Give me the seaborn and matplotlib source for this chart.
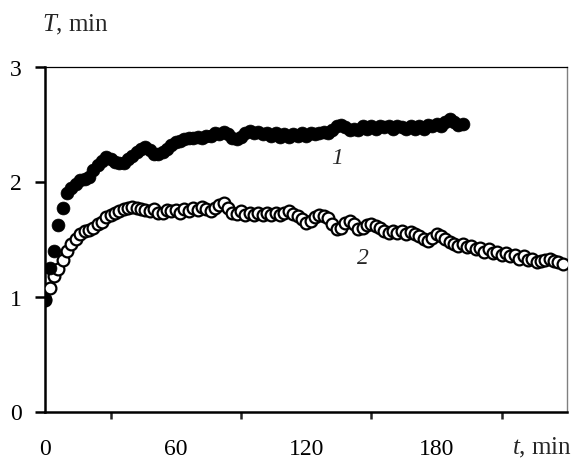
import numpy as np
import pandas as pd
import matplotlib
matplotlib.use("Agg")
import matplotlib.pyplot as plt
import seaborn as sns

# ---- data ----
t1 = list(range(0, 194, 2))
T1 = [0.98, 1.25, 1.40, 1.62, 1.77, 1.90, 1.94, 1.98, 2.01, 2.02,
      2.04, 2.10, 2.14, 2.18, 2.21, 2.20, 2.17, 2.16, 2.16, 2.20,
      2.22, 2.26, 2.28, 2.30, 2.27, 2.24, 2.24, 2.26, 2.28, 2.32,
      2.34, 2.35, 2.37, 2.38, 2.38, 2.39, 2.38, 2.40, 2.40, 2.42,
      2.41, 2.43, 2.41, 2.38, 2.37, 2.39, 2.42, 2.44, 2.42, 2.43,
      2.41, 2.42, 2.40, 2.42, 2.39, 2.41, 2.39, 2.41, 2.40, 2.42,
      2.40, 2.42, 2.41, 2.42, 2.43, 2.42, 2.45, 2.48, 2.49, 2.47,
      2.45, 2.46, 2.45, 2.48, 2.46, 2.48, 2.46, 2.48, 2.47, 2.48,
      2.46, 2.48, 2.47, 2.46, 2.48, 2.46, 2.48, 2.46, 2.49, 2.48,
      2.50, 2.48, 2.52, 2.54, 2.52, 2.49, 2.50]

t2 = list(range(0, 240, 2))
T2 = [0.97, 1.07, 1.18, 1.24, 1.32, 1.40, 1.46, 1.50, 1.54, 1.57,
      1.58, 1.60, 1.63, 1.65, 1.69, 1.71, 1.73, 1.74, 1.76, 1.77,
      1.78, 1.77, 1.76, 1.75, 1.74, 1.76, 1.73, 1.73, 1.75, 1.74,
      1.75, 1.73, 1.76, 1.74, 1.77, 1.75, 1.78, 1.76, 1.74, 1.77,
      1.80, 1.81, 1.77, 1.73, 1.72, 1.74, 1.71, 1.73, 1.71, 1.73,
      1.71, 1.73, 1.71, 1.73, 1.71, 1.73, 1.74, 1.72, 1.70, 1.67,
      1.64, 1.66, 1.69, 1.71, 1.70, 1.68, 1.63, 1.59, 1.60, 1.64,
      1.66, 1.63, 1.59, 1.60, 1.62, 1.63, 1.61, 1.60, 1.57, 1.55,
      1.57, 1.55, 1.57, 1.54, 1.56, 1.54, 1.53, 1.50, 1.48, 1.51,
      1.54, 1.53, 1.50, 1.47, 1.46, 1.44, 1.46, 1.43, 1.44, 1.41,
      1.42, 1.39, 1.41, 1.38, 1.39, 1.36, 1.38, 1.35, 1.36, 1.33,
      1.35, 1.32, 1.33, 1.30, 1.31, 1.32, 1.33, 1.31, 1.30, 1.28]

xticks = [0, 60, 120, 180]
xminor = [30, 90, 150, 210]
yticks = [0, 1, 2, 3]
curve_labels = ["1", "2"]
label_pos = [(134, 2.21), (146, 1.34)]

df1 = pd.DataFrame({"t": t1, "T": T1})
df2 = pd.DataFrame({"t": t2, "T": T2})

sns.set_style("white")
plt.rcParams["font.family"] = ["Liberation Serif", "DejaVu Serif"]
plt.rcParams["mathtext.fontset"] = "custom"
plt.rcParams["mathtext.rm"] = "Liberation Serif"
plt.rcParams["mathtext.it"] = "Liberation Serif:italic"

fig = plt.figure(figsize=(5.73, 4.64), dpi=100)
ax = fig.add_axes([45.4 / 573, 1 - 412.5 / 464, (567 - 45.4) / 573, (412.5 - 67.5) / 464])

sns.scatterplot(data=df2, x="t", y="T", ax=ax, s=72, marker="o",
                facecolor="white", edgecolor="black", linewidth=1.6, zorder=3)
sns.scatterplot(data=df1, x="t", y="T", ax=ax, s=86, marker="o",
                color="black", edgecolor="black", linewidth=0.5, zorder=4)

ax.set_xlim(0, 240)
ax.set_ylim(0, 3)
ax.set_xticks(xticks)
ax.set_xticks(xminor, minor=True)
ax.set_yticks(yticks)
ax.set_xlabel("")
ax.set_ylabel("")

for side in ["left", "bottom"]:
    ax.spines[side].set_linewidth(1.8)
    ax.spines[side].set_color("black")
ax.spines["top"].set_linewidth(0.9)
ax.spines["top"].set_color("black")
ax.spines["right"].set_linewidth(1.0)
ax.spines["right"].set_color("#808080")

ax.tick_params(axis="x", which="major", direction="out", length=7, width=1.8,
               labelsize=17, pad=12, colors="black")
ax.tick_params(axis="x", which="minor", direction="out", length=5, width=1.8,
               bottom=True)
ax.tick_params(axis="y", which="major", direction="out", length=7, width=1.8,
               labelsize=17, pad=10, colors="black", left=True)

for lab, (x, y) in zip(curve_labels, label_pos):
    ax.text(x, y, lab, fontsize=17, style="italic", ha="center", va="center")

fig.text(42 / 573, 1 - 25 / 464, "$T$, min", fontsize=18, ha="left", va="center")
fig.text(572 / 573, 1 - 448 / 464, "$t$, min", fontsize=18, ha="right", va="center")

fig.savefig("out.png", dpi=100)
